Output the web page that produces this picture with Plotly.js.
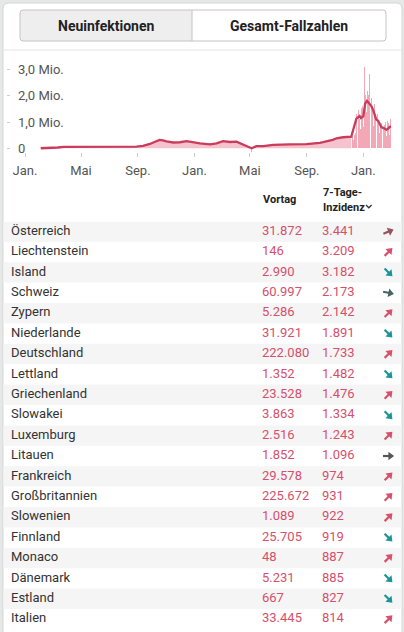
<!DOCTYPE html>
<html><head><meta charset="utf-8">
<script src="https://cdn.plot.ly/plotly-3.0.1.min.js"></script>
<style>html,body{margin:0;padding:0;background:#e6e8e8;overflow:hidden}#chart{width:404px;height:632px}</style>
</head><body><div id="chart"></div>
<script>
// ---------- chart data (new infections, millions) ----------
const lineDates = ['2020-02-04','2020-02-25','2020-03-12','2020-03-25','2020-04-10','2020-05-01','2020-06-01','2020-07-01','2020-08-01','2020-08-29','2020-09-12','2020-09-27','2020-10-08','2020-10-18','2020-10-25','2020-11-02','2020-11-16','2020-12-01','2020-12-15','2020-12-30','2021-01-13','2021-02-04','2021-02-18','2021-03-04','2021-03-19','2021-04-02','2021-04-16','2021-04-27','2021-05-05','2021-05-15','2021-05-30','2021-06-20','2021-07-26','2021-08-31','2021-09-29','2021-10-06','2021-10-27','2021-11-04','2021-11-18','2021-12-06','2021-12-17','2021-12-24','2021-12-27','2022-01-01','2022-01-05','2022-01-09','2022-01-12','2022-01-18','2022-01-22','2022-01-29','2022-02-02','2022-02-09','2022-02-13','2022-02-20','2022-02-24','2022-02-27','2022-03-02'];
const lineValues = [0.0,0.005,0.03,0.05,0.05,0.04,0.035,0.035,0.04,0.06,0.09,0.165,0.25,0.32,0.30,0.26,0.22,0.23,0.27,0.22,0.19,0.15,0.19,0.27,0.24,0.25,0.13,0.06,0.0,0.08,0.08,0.13,0.15,0.16,0.21,0.23,0.32,0.38,0.42,0.44,1.13,1.23,1.15,1.22,1.70,1.81,1.75,1.62,1.47,1.10,1.05,0.81,0.78,0.71,0.75,0.82,0.83];
const dipDates = ['2021-05-04'];
const dipValues = [-0.18];
const dailyStart = '2021-12-08';
const dailyValues = [0.50,0.48,0.46,0.30,0.28,0.52,0.55,0.60,1.15,1.30,0.90,0.70,1.25,1.40,1.45,1.50,1.10,0.60,0.75,1.30,1.55,1.70,1.60,1.35,
 0.80,1.10,1.90,3.10,2.20,2.05,1.95,1.40,1.20,2.20,2.10,2.05,1.95,2.85,1.30,1.00,1.85,2.05,1.90,1.75,1.60,1.10,0.85,1.55,1.70,1.45,1.30,1.20,0.80,0.65,1.15,
 1.30,1.10,1.00,0.95,0.60,0.50,0.85,1.00,0.95,0.85,0.80,0.50,0.40,0.75,0.95,0.90,1.25,1.00,0.55,0.45,0.80,1.05,1.20,0.95,0.90,0.55,0.50,0.95,
 1.10,1.05];
const yTickVals = [0,1,2,3];
const yTickText = ['0','1,0 Mio.','2,0 Mio.','3,0 Mio.'];
const xTickVals = ['2020-01-01','2020-05-01','2020-09-01','2021-01-01','2021-05-01','2021-09-01','2022-01-01'];
const xTickText = ['Jan.','Mai','Sep.','Jan.','Mai','Sep.','Jan.'];

// ---------- table data ----------
const countries = ['Österreich','Liechtenstein','Island','Schweiz','Zypern','Niederlande','Deutschland','Lettland','Griechenland','Slowakei','Luxemburg','Litauen','Frankreich','Großbritannien','Slowenien','Finnland','Monaco','Dänemark','Estland','Italien'];
const vortag = ['31.872','146','2.990','60.997','5.286','31.921','222.080','1.352','23.528','3.863','2.516','1.852','29.578','225.672','1.089','25.705','48','5.231','667','33.445'];
const inzidenz = ['3.441','3.209','3.182','2.173','2.142','1.891','1.733','1.482','1.476','1.334','1.243','1.096','974','931','922','919','887','885','827','814'];
const trend = [0.5,1,-1,-0.25,1,-1,1,-1,1,-1,1,0,1,1,1,-1,1,-1,-1,1];
const buttonLabels = ['Neuinfektionen','Gesamt-Fallzahlen'];
const headVortag = 'Vortag';
const headInz = ['7-Tage-','Inzidenz'];

// ---------- helpers ----------
const W = 404, H = 632;
const px = x => x / W, py = y => 1 - y / H;
const P = (x, y) => px(x) + ',' + py(y);
const NARROW = 'Liberation Sans Narrow, Roboto, sans-serif';
const ROBOTO = 'Roboto, sans-serif';

const dailyDates = dailyValues.map((v, i) => {
  const d = new Date(dailyStart + 'T00:00:00Z');
  d.setUTCDate(d.getUTCDate() + i);
  return d.toISOString().slice(0, 10);
});
const barDates = dipDates.concat(dailyDates);
const barValues = dipValues.concat(dailyValues);
const fillN = lineDates.filter(d => d <= '2021-12-06').length;

const rowIdx = countries.map((c, i) => i);
const COL_NAME = 11, COL_V = 262, COL_I = 322, COL_ARROW = 388.5;
const TABLE_TOP = 221.4, ROW_RANGE = [19.627, -0.5];
const ROW_PX = (H - TABLE_TOP) / (ROW_RANGE[0] - ROW_RANGE[1]);

function mix(a, b, t) {
  const pa = [1,3,5].map(k => parseInt(a.substr(k,2),16));
  const pb = [1,3,5].map(k => parseInt(b.substr(k,2),16));
  return 'rgb(' + pa.map((v,k) => Math.round(v + (pb[k]-v)*t)).join(',') + ')';
}
const trendColor = t => t >= 0 ? mix('#555555', '#d9506b', t) : mix('#555555', '#1a9598', -t);

const traces = [
  {type:'scatter', x: lineDates.slice(0, fillN), y: lineValues.slice(0, fillN), mode:'none', fill:'tozeroy', fillcolor:'#f6c3cd', hoverinfo:'skip'},
  {type:'bar', x: barDates, y: barValues, width: barDates.map(() => 0.9 * 864e5), marker:{color:'#f3a8b7', line:{width:0}}, hoverinfo:'skip'},
  {type:'scatter', x: lineDates, y: lineValues, mode:'lines', line:{color:'#c93c5b', width:2.3}, hoverinfo:'skip'},
  {type:'scatter', xaxis:'x2', yaxis:'y2', x: rowIdx.map(() => COL_NAME), y: rowIdx, text: countries, mode:'text', textposition:'middle right', textfont:{family: ROBOTO, size:13, color:'#333333'}, cliponaxis:false, hoverinfo:'skip'},
  {type:'scatter', xaxis:'x2', yaxis:'y2', x: rowIdx.map(() => COL_V), y: rowIdx, text: vortag, mode:'text', textposition:'middle right', textfont:{family: NARROW, size:13, color:'#d6506c'}, cliponaxis:false, hoverinfo:'skip'},
  {type:'scatter', xaxis:'x2', yaxis:'y2', x: rowIdx.map(() => COL_I), y: rowIdx, text: inzidenz, mode:'text', textposition:'middle right', textfont:{family: NARROW, size:13, color:'#d6506c'}, cliponaxis:false, hoverinfo:'skip'}
];
// trend arrows: a short shaft per row plus a rotated triangle head
rowIdx.forEach(i => {
  const th = trend[i] * Math.PI / 4;
  const ux = Math.cos(th), uy = Math.sin(th);           // pixel direction (up positive)
  const at = d => [COL_ARROW + d * ux, i - d * uy / ROW_PX];
  const tail = at(-5.5), end = at(2.5), head = at(1.8);
  const c = trendColor(trend[i]);
  traces.push({type:'scatter', xaxis:'x2', yaxis:'y2', mode:'lines',
    x:[tail[0], end[0]], y:[tail[1], end[1]], line:{color:c, width:2.2},
    cliponaxis:false, hoverinfo:'skip'});
  traces.push({type:'scatter', xaxis:'x2', yaxis:'y2', mode:'markers',
    x:[head[0]], y:[head[1]],
    marker:{symbol:'triangle-up', size:7.5, angle:90 - trend[i] * 45, color:c, line:{width:0}},
    cliponaxis:false, hoverinfo:'skip'});
});

// shapes
const shapes = [];
shapes.push({type:'path', xref:'paper', yref:'paper', layer:'below',
  path:'M'+P(3,9)+' Q'+P(3,3)+' '+P(9,3)+' L'+P(396,3)+' Q'+P(402,3)+' '+P(402,9)+' L'+P(402,633)+' L'+P(3,633)+' Z',
  fillcolor:'#ffffff', line:{color:'#d4d6d6', width:1}});
rowIdx.forEach(i => {
  if (i % 2 === 0) shapes.push({type:'rect', xref:'paper', yref:'y2', layer:'below', x0:px(3.5), x1:px(401.5), y0:i-0.5, y1:i+0.5, fillcolor:'#f5f5f5', line:{width:0}});
});
shapes.push({type:'line', xref:'paper', yref:'paper', x0:px(3.5), x1:px(401.5), y0:py(50), y1:py(50), line:{color:'#e4e4e4', width:1}});
// buttons
shapes.push({type:'path', xref:'paper', yref:'paper', path:'M'+P(23,10)+' L'+P(192,10)+' L'+P(192,41)+' L'+P(23,41)+' Q'+P(20,41)+' '+P(20,38)+' L'+P(20,13)+' Q'+P(20,10)+' '+P(23,10)+' Z', fillcolor:'#eeeeee', line:{width:0}});
shapes.push({type:'path', xref:'paper', yref:'paper', path:'M'+P(23,10)+' L'+P(383,10)+' Q'+P(386,10)+' '+P(386,13)+' L'+P(386,38)+' Q'+P(386,41)+' '+P(383,41)+' L'+P(23,41)+' Q'+P(20,41)+' '+P(20,38)+' L'+P(20,13)+' Q'+P(20,10)+' '+P(23,10)+' Z', line:{color:'#c4c4c4', width:1}});
shapes.push({type:'line', xref:'paper', yref:'paper', x0:px(192), x1:px(192), y0:py(10), y1:py(41), line:{color:'#c4c4c4', width:1}});
// chevron
shapes.push({type:'path', xref:'paper', yref:'paper', path:'M'+P(366,205)+' L'+P(368.8,207.8)+' L'+P(371.6,205), line:{color:'#333333', width:1.3}});

const annotations = [];
const ann = (x, y, text, font, xanchor) => annotations.push({xref:'paper', yref:'paper', x:px(x), y:py(y), xanchor:xanchor, yanchor:'middle', text:text, showarrow:false, font:font});
ann(106, 26, '<b>'+buttonLabels[0]+'</b>', {family:ROBOTO, size:14, color:'#222222'}, 'center');
ann(289, 26, '<b>'+buttonLabels[1]+'</b>', {family:ROBOTO, size:14, color:'#222222'}, 'center');
ann(261, 199, '<b>'+headVortag+'</b>', {family:ROBOTO, size:11, color:'#222222'}, 'left');
ann(321, 192, '<b>'+headInz[0]+'</b>', {family:ROBOTO, size:11, color:'#222222'}, 'left');
ann(321, 207.5, '<b>'+headInz[1]+'</b>', {family:ROBOTO, size:11, color:'#222222'}, 'left');

const layout = {
  width: W, height: H, margin:{l:0,r:0,t:0,b:0},
  paper_bgcolor:'#e6e8e8', plot_bgcolor:'rgba(0,0,0,0)', showlegend:false,
  xaxis:{type:'date', domain:[px(11), px(395)], range:['2019-12-01 18:00','2022-03-10 12:00'], anchor:'y',
    tickvals: xTickVals, ticktext: xTickText, ticks:'outside', ticklen:4, tickcolor:'#cccccc', tickwidth:1,
    showgrid:false, zeroline:false, showline:false, ticklabelstandoff:2,
    tickfont:{family:NARROW, size:13, color:'#555555'}, fixedrange:true},
  yaxis:{domain:[py(152.2), py(61.8)], range:[-0.15, 3.3], anchor:'x',
    tickvals: yTickVals, ticktext: yTickText, ticks:'outside', ticklen:3, tickcolor:'#cccccc', tickwidth:1,
    ticklabelposition:'inside', ticklabeloverflow:'allow', ticklabelstandoff:4,
    showgrid:false, zeroline:false, showline:false,
    tickfont:{family:NARROW, size:13, color:'#555555'}, fixedrange:true},
  xaxis2:{domain:[0,1], range:[0, W], anchor:'y2', visible:false, fixedrange:true},
  yaxis2:{domain:[0, py(TABLE_TOP)], range:ROW_RANGE, anchor:'x2', visible:false, fixedrange:true},
  shapes: shapes, annotations: annotations, bargap:0
};

Plotly.newPlot('chart', traces, layout, {staticPlot:true, displayModeBar:false});
</script></body></html>
